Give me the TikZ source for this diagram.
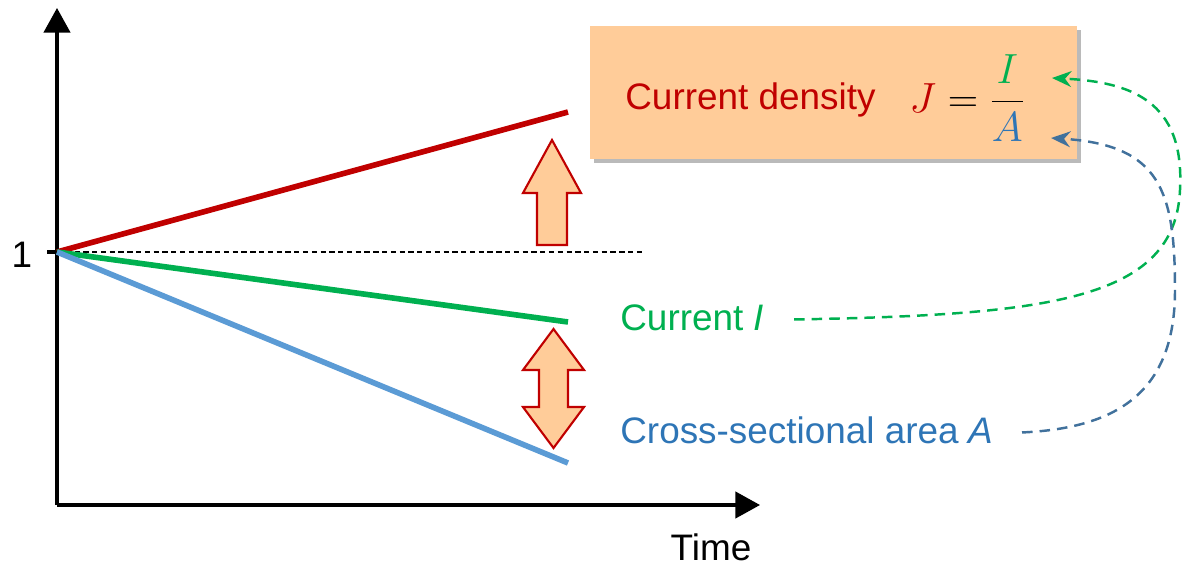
\documentclass[tikz,border=0pt]{standalone}
\usepackage{fix-cm}
\usepackage{fontspec}
\setmainfont{Liberation Sans}
\usetikzlibrary{arrows.meta,shadows}
\definecolor{darkred}{HTML}{C00000}
\definecolor{curgreen}{HTML}{00B050}
\definecolor{arealine}{HTML}{5B9BD5}
\definecolor{areatext}{HTML}{2E75B6}
\definecolor{areadash}{HTML}{41719C}
\definecolor{peach}{HTML}{FFCC99}
\begin{document}
\begin{tikzpicture}[x=0.02cm,y=-0.02cm,
    axis/.style={line width=1.8pt,-{Triangle[length=14pt,width=15pt]}},
    trend/.style={line width=3.2pt},
    blockarrow/.style={draw=darkred,fill=peach,line width=1.2pt,line join=miter},
    link/.style={dashed,line width=1.4pt,dash pattern=on 6pt off 4pt,
                 -{Stealth[length=11pt,width=9pt]}},
    lbl/.style={inner sep=0pt,font=\fontsize{21}{25}\selectfont}]
    \useasboundingbox (0,0) rectangle (1184,568);
    % axes
    \coordinate (origin) at (57,505);
    \coordinate (one) at (57,252);
    \draw [axis] (origin) -- (57,8);
    \draw [axis] (origin) -- (760,505);
    \node [lbl,anchor=base] (time) at (711,560) {Time};
    \draw [line width=2.2pt] (47,252) -- (one);
    \node [lbl,anchor=base] (onelbl) at (22,267) {1};
    \draw [dashed,line width=0.7pt,dash pattern=on 3pt off 2pt] (one) -- (645,252);
    % three quantities
    \draw [trend,darkred] (one) -- (568,112);
    \draw [trend,curgreen] (one) -- (568,322);
    \draw [trend,arealine] (one) -- (568,463);
    \draw [blockarrow] (552,140) -- (581,193) -- (567,193) -- (567,245)
        -- (537,245) -- (537,193) -- (523,193) -- cycle;
    \draw [blockarrow] (553.5,329) -- (584,370) -- (568,370) -- (568,407)
        -- (584,407) -- (553.5,448) -- (523,407) -- (539,407) -- (539,370)
        -- (523,370) -- cycle;
    % box with the formula
    \node [fill=peach,minimum width=9.74cm,minimum height=2.66cm,
        drop shadow={shadow xshift=2.5pt,shadow yshift=-2.5pt,fill=black!60,opacity=0.45}]
        (box) at (833.5,92.5) {};
    \node [lbl,anchor=base west,text=darkred] (density) at (625,109) {Current density};
    \node [inner sep=0pt,anchor=west,font=\fontsize{24}{28}\selectfont] (formula) at (909,98)
        {$\displaystyle\color{darkred}J\color{black}=\frac{\color{curgreen}I}{\color{areatext}A}$};
    \coordinate (numtip) at (1052,78);
    \coordinate (dentip) at (1051,138);
    \node [lbl,anchor=base west,text=curgreen] (current) at (620,330) {Current \textit{I}};
    \node [lbl,anchor=base west,text=areatext] (area) at (620,443) {Cross-sectional area \textit{A}};
    % links
    \draw [link,curgreen] ([xshift=17pt,yshift=6pt]current.base east)
        .. controls (1050,315) and (1175,300) .. (1180,190)
        .. controls (1185,100) and (1130,82) .. (numtip);
    \draw [link,areadash] ([xshift=16pt,yshift=6pt]area.base east)
        .. controls (1120,428) and (1175,390) .. (1175,290)
        .. controls (1175,190) and (1160,145) .. (dentip);
\end{tikzpicture}
\end{document}
